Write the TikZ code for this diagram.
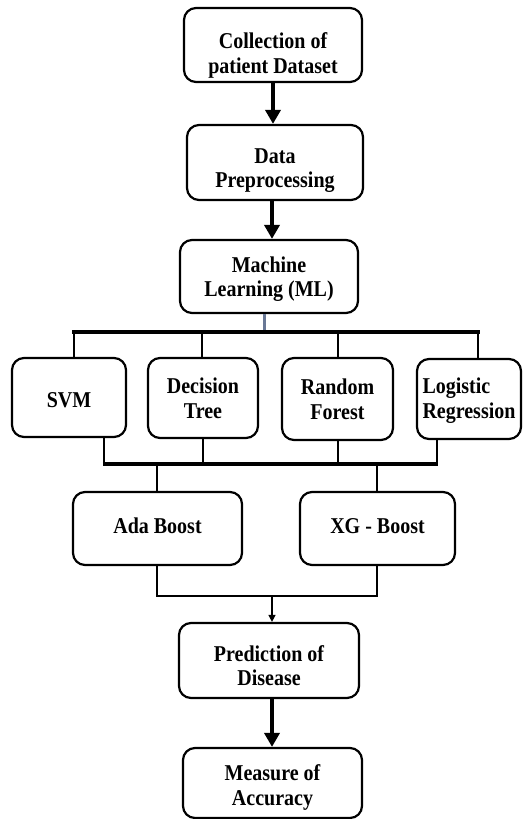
\documentclass[tikz,border=0pt]{standalone}
\usepackage{fontspec}
\setmainfont{Liberation Serif}
\usetikzlibrary{arrows.meta}
\newcommand\boxtxt[2][0]{\raisebox{-#1pt}[\height][\depth]{\scalebox{1}[1.13]{\begin{tabular}{@{}c@{}}#2\end{tabular}}}}
\newcommand\boxtxtl[2][0]{\raisebox{-#1pt}[\height][\depth]{\scalebox{1}[1.13]{\begin{tabular}{@{}l@{}}#2\end{tabular}}}}
\begin{document}
\begin{tikzpicture}[x=1pt,y=-1pt,
  box/.style={draw=black, line width=2.2pt, rounded corners=12pt, fill=white,
    inner sep=0pt, align=center, font=\fontsize{20}{21.5}\selectfont\bfseries},
  bigarrow/.style={line width=3.8pt, -{Triangle[width=15pt,length=14pt]}},
  smallarrow/.style={line width=1.3pt, -{Triangle[width=7pt,length=7pt]}},
  bus/.style={line width=4pt},
  drop/.style={line width=2pt},
  thin/.style={line width=1.2pt}]
\useasboundingbox (0,0) rectangle (522,819);
\fill[white] (0,0) rectangle (522,819);

\node[box, minimum width=178pt, minimum height=74pt] (c1) at (273,45) {\boxtxt[11]{Collection of\\patient Dataset}};
\node[box, minimum width=176pt, minimum height=75pt] (c2) at (275,162.5) {\boxtxt[8]{Data\\Preprocessing}};
\node[box, minimum width=178pt, minimum height=73pt] (ml) at (269,276.5) {\boxtxt[3]{Machine\\Learning (ML)}};

\node[box, minimum width=114pt, minimum height=79pt] (svm) at (69,397.5) {\boxtxt[5]{SVM}};
\node[box, minimum width=110pt, minimum height=80pt] (dt) at (203,398) {\boxtxt[3]{Decision\\Tree}};
\node[box, minimum width=111pt, minimum height=82pt] (rf) at (337.5,399) {\boxtxt[3]{Random\\Forest}};
\node[box, minimum width=104pt, minimum height=80pt] (lr) at (469,399) {\boxtxtl[2]{Logistic\\Regression}};

\node[box, minimum width=169pt, minimum height=73pt] (ada) at (157.5,528.5) {\boxtxt{Ada Boost}};
\node[box, minimum width=155pt, minimum height=73pt] (xg) at (377.5,528.5) {\boxtxt{XG - Boost}};

\node[box, minimum width=180pt, minimum height=75pt] (pred) at (269,660.5) {\boxtxt[8]{Prediction of\\Disease}};
\node[box, minimum width=179pt, minimum height=70pt] (meas) at (272.5,783) {\boxtxt[5]{Measure of\\Accuracy}};

% main arrows
\draw[bigarrow] (c1.south -| 273,0) -- (c2.north -| 273,0);
\draw[bigarrow] (c2.south -| 272,0) -- (ml.north -| 272,0);

% upper bus
\coordinate (ub) at (264,332);
\coordinate (u1) at (74,332);
\coordinate (u2) at (202,332);
\coordinate (u3) at (338,332);
\coordinate (u4) at (478,332);
\draw[line width=3pt, draw={rgb,255:red,105;green,120;blue,150}] (ml.south -| ub) -- (ub);
\draw[bus] ([xshift=-2pt]u1) -- ([xshift=2pt]u4);
\draw[drop] (u1) -- (u1 |- svm.north);
\draw[drop] (u2) -- (u2 |- dt.north);
\draw[drop] (u3) -- (u3 |- rf.north);
\draw[drop] (u4) -- (u4 |- lr.north);

% lower bus
\coordinate (l1) at (104,464);
\coordinate (l2) at (203,464);
\coordinate (l3) at (338,464);
\coordinate (l4) at (437,464);
\coordinate (la) at (157,464);
\coordinate (lx) at (377,464);
\draw[drop, line width=2.4pt] (svm.south -| l1) -- (l1);
\draw[thin] (dt.south -| l2) -- (l2);
\draw[drop] (rf.south -| l3) -- (l3);
\draw[drop, line width=2.4pt] (lr.south -| l4) -- (l4);
\draw[bus] ([xshift=-1.2pt]l1) -- ([xshift=1.2pt]l4);
\draw[drop] (la) -- (la |- ada.north);
\draw[drop] (lx) -- (lx |- xg.north);

% merge to prediction
\coordinate (ma) at (157,596);
\coordinate (mx) at (377,596);
\coordinate (mp) at (272,596);
\draw[line width=1.8pt] (ada.south -| ma) -- (ma) -- (mx) -- (xg.south -| mx);
\draw[smallarrow] (mp) -- (pred.north -| mp);

\draw[bigarrow] (pred.south -| 272,0) -- (meas.north -| 272,0);
\end{tikzpicture}
\end{document}
